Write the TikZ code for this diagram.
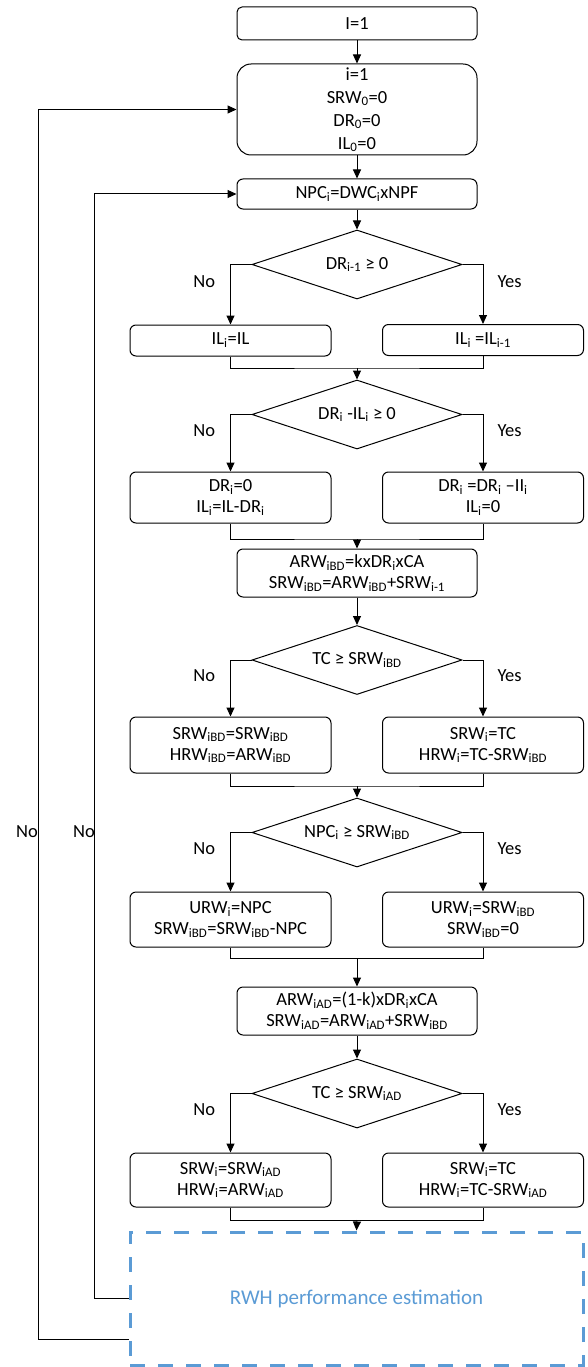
\documentclass[tikz,border=0pt]{standalone}
\usepackage{fontspec}
\setmainfont{Carlito}
\usepackage{tikz}
\usetikzlibrary{calc}
\usetikzlibrary{arrows.meta}
\usetikzlibrary{shapes.geometric}
\usetikzlibrary{positioning}
\definecolor{estblue}{RGB}{91,155,213}
\newcommand{\idx}[1]{\textsubscript{#1}}
\tikzset{
 box/.style={draw, rounded corners=6pt, align=center, inner sep=0pt, font=\fontsize{18.5}{21}\selectfont},
 sidebox/.style={box, minimum width=201pt},
 midbox/.style={box, minimum width=240pt},
 decision/.style={draw, diamond, aspect=3, inner sep=0pt, minimum width=210pt, minimum height=69pt, font=\fontsize{18.5}{21}\selectfont},
 lbl/.style={inner sep=0pt, font=\fontsize{18.5}{21}\selectfont},
 estbox/.style={draw=estblue, line width=3pt, dash pattern=on 15pt off 13pt, text=estblue, minimum width=453pt, minimum height=133pt, font=\fontsize{21}{24}\selectfont}
}

\begin{document}
\begin{tikzpicture}[x=1pt, y=-1pt, line width=1pt, >={Triangle[length=9pt,width=8pt]}]
\useasboundingbox (0,0) rectangle (587,1367);
\node[midbox, rounded corners=5pt, minimum height=33pt] (start) at (357,23.5) {I=1};
\node[midbox, rounded corners=14pt, minimum height=91pt, font=\fontsize{18.5}{23}\selectfont] (init) at (357,109.5) {i=1\\SRW\idx{0}=0\\DR\idx{0}=0\\IL\idx{0}=0};
\node[midbox, minimum height=30pt] (npc) at (357,194) {NPC\idx{i}=DWC\idx{i}xNPF};
\node[decision] (d1) at (357,264.5) {DR\idx{i-1} ≥ 0};
\node[sidebox, minimum height=31pt] (a1) at (230.5,340.5) {IL\idx{i}=IL};
\node[sidebox, minimum height=31pt] (b1) at (483,340) {IL\idx{i} =IL\idx{i-1}};
\node[decision] (d2) at (357,414.5) {DR\idx{i} -IL\idx{i} ≥ 0};
\node[sidebox, minimum height=51pt] (a2) at (230.5,497.5) {DR\idx{i}=0\\IL\idx{i}=IL-DR\idx{i}};
\node[sidebox, minimum height=51pt] (b2) at (483,497.5) {DR\idx{i} =DR\idx{i} –II\idx{i}\\IL\idx{i}=0};
\node[midbox, minimum height=48pt] (ab1) at (357,573) {ARW\idx{iBD}=kxDR\idx{i}xCA\\SRW\idx{iBD}=ARW\idx{iBD}+SRW\idx{i-1}};
\node[decision] (d3) at (357,660) {TC ≥ SRW\idx{iBD}};
\node[sidebox, minimum height=56pt] (a3) at (230.5,745) {SRW\idx{iBD}=SRW\idx{iBD}\\HRW\idx{iBD}=ARW\idx{iBD}};
\node[sidebox, minimum height=56pt] (b3) at (483,745) {SRW\idx{i}=TC\\HRW\idx{i}=TC-SRW\idx{iBD}};
\node[decision] (d4) at (357,832.5) {NPC\idx{i} ≥ SRW\idx{iBD}};
\node[sidebox, minimum height=55pt] (a4) at (230.5,919.5) {URW\idx{i}=NPC\\SRW\idx{iBD}=SRW\idx{iBD}-NPC};
\node[sidebox, minimum height=55pt] (b4) at (483,919.5) {URW\idx{i}=SRW\idx{iBD}\\SRW\idx{iBD}=0};
\node[midbox, minimum height=48pt] (ab2) at (357,1011) {ARW\idx{iAD}=(1-k)xDR\idx{i}xCA\\SRW\idx{iAD}=ARW\idx{iAD}+SRW\idx{iBD}};
\node[decision] (d5) at (357,1093.5) {TC ≥ SRW\idx{iAD}};
\node[sidebox, minimum height=54pt] (a5) at (230.5,1180) {SRW\idx{i}=SRW\idx{iAD}\\HRW\idx{i}=ARW\idx{iAD}};
\node[sidebox, minimum height=54pt] (b5) at (483,1180) {SRW\idx{i}=TC\\HRW\idx{i}=TC-SRW\idx{iAD}};
\node[estbox] (est) at (356.5,1298.5) {RWH performance estimation};
\coordinate (m1) at (357,368);
\coordinate (m2) at (357,539);
\coordinate (m3) at (357,786);
\coordinate (m4) at (357,958);
\coordinate (m5) at (357,1220);
\draw[->] (start) -- (init);
\draw[->] (init) -- (npc);
\draw[->] (npc) -- (d1);
\draw[->] (ab1) -- (d3);
\draw[->] (ab2) -- (d5);
\foreach \d/\l/\r in {d1/a1/b1, d2/a2/b2, d3/a3/b3, d4/a4/b4, d5/a5/b5} {
 \draw[->] (\d.west) -| (\l.north) node[lbl, pos=.64, left=15pt] {No};
 \draw[->] (\d.east) -| (\r.north) node[lbl, pos=.64, right=14pt] {Yes};
}
\foreach \l/\r/\m/\n in {a1/b1/m1/d2, a2/b2/m2/ab1, a3/b3/m3/d4, a4/b4/m4/ab2, a5/b5/m5/est} {
 \draw (\l.south) |- (\m) -| (\r.south);
 \draw[->] (\m) -- (\n.north);
}
\draw[->] (est.west) -- ++(-34,0) |- (npc.west);
\draw[->] ([yshift=27pt]est.south west) -- ++(-90,0) |- (init.west);
\node[lbl] (no1) at (27,832) {No};
\node[lbl] (no2) at (84,832) {No};
\end{tikzpicture}
\end{document}
